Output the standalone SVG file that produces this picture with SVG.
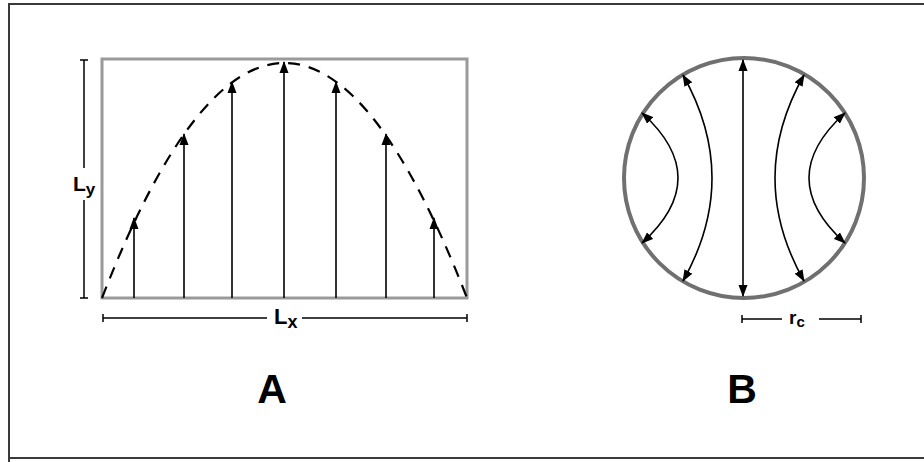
<svg xmlns="http://www.w3.org/2000/svg" width="924" height="462" viewBox="0 0 924 462">
<style>
.lbl{font-family:"Liberation Sans",Arial,sans-serif;font-weight:bold;fill:#000}
.dim{stroke:#000;stroke-width:1.5;fill:none}
.arr{stroke:#000;stroke-width:1.6;fill:none}
</style>
<defs>
<marker id="ah" viewBox="0 0 12 10" refX="11" refY="5" markerWidth="12" markerHeight="10" markerUnits="userSpaceOnUse" orient="auto-start-reverse">
<path d="M0,0.5 L12,5 L0,9.5 Z" fill="#000"/>
</marker>
</defs>
<rect x="0" y="0" width="924" height="462" fill="#fff"/>
<path d="M9,462 V4 H924 M9,458 H924" fill="none" stroke="#3a3a3a" stroke-width="2"/>

<g id="panelA">
<rect x="102" y="59" width="365" height="239" fill="none" stroke="#9a9a9a" stroke-width="3"/>
<path d="M102,298 Q284.5,-172 467,298" fill="none" stroke="#000" stroke-width="2.2" stroke-dasharray="12,9"/>
<g id="dimLy">
<path class="dim" d="M84,60 V168 M84,200 V298 M80,60 H88 M80,298 H88"/>
<text class="lbl" x="73" y="191" font-size="21">L<tspan font-size="17" dy="4">y</tspan></text>
</g>
<g id="dimLx">
<path class="dim" d="M103,318 H267 M302,318 H467 M103,314 V322 M467,314 V322"/>
<text class="lbl" x="274" y="324" font-size="22">L<tspan font-size="18" dy="4">x</tspan></text>
</g>
<text class="lbl" x="272" y="403" font-size="41" text-anchor="middle">A</text>
</g>

<g id="panelB">
<circle cx="744" cy="178" r="120" fill="none" stroke="#707070" stroke-width="4"/>
<g id="dimRc">
<path class="dim" d="M742,319 H782 M819,319 H861 M742,315 V323 M861,315 V323"/>
<text class="lbl" x="789" y="324" font-size="19">r<tspan font-size="15" dy="3">c</tspan></text>
</g>
<text class="lbl" x="742" y="403" font-size="41" text-anchor="middle">B</text>
</g>

<g id="connectors">
<path class="arr" marker-end="url(#ah)" d="M134,298 V218"/>
<path class="arr" marker-end="url(#ah)" d="M184,298 V134"/>
<path class="arr" marker-end="url(#ah)" d="M232,298 V82"/>
<path class="arr" marker-end="url(#ah)" d="M284,298 V62"/>
<path class="arr" marker-end="url(#ah)" d="M336,298 V82"/>
<path class="arr" marker-end="url(#ah)" d="M386,298 V134"/>
<path class="arr" marker-end="url(#ah)" d="M434,298 V218"/>

<path class="arr" marker-start="url(#ah)" marker-end="url(#ah)" d="M743,60 V296"/>
<path class="arr" marker-start="url(#ah)" marker-end="url(#ah)" d="M642,113 Q714,178 642,243"/>
<path class="arr" marker-start="url(#ah)" marker-end="url(#ah)" d="M683,75 Q741,178 683,281"/>
<path class="arr" marker-start="url(#ah)" marker-end="url(#ah)" d="M804,75 Q746,178 804,281"/>
<path class="arr" marker-start="url(#ah)" marker-end="url(#ah)" d="M845,113 Q773,178 845,243"/>
</g>
</svg>
